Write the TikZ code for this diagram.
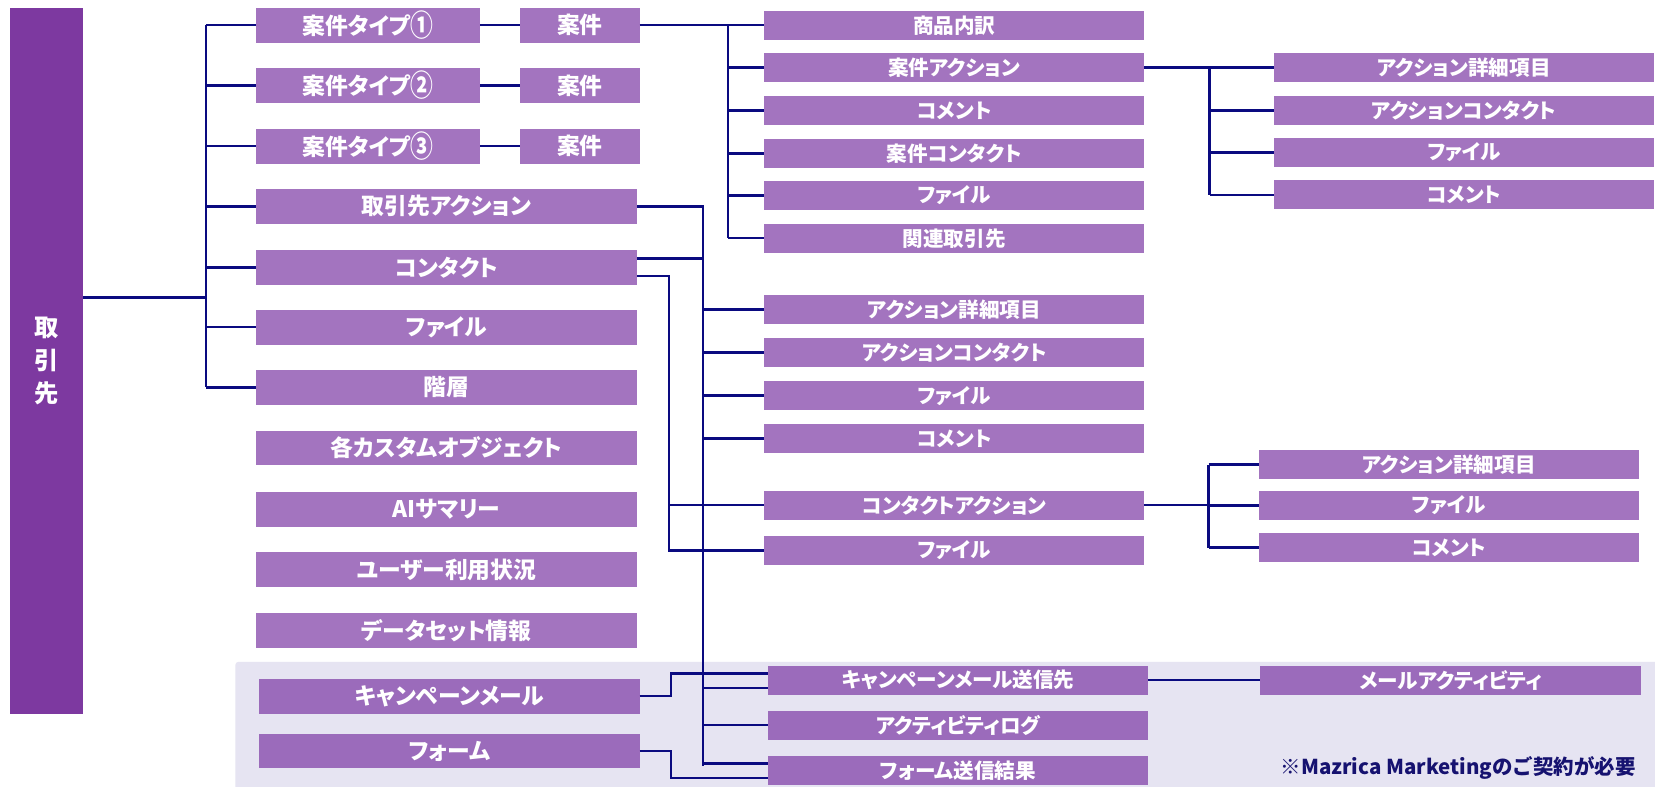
\documentclass[tikz,border=0pt]{standalone}
\usepackage{fontspec}
\usepackage{graphicx}
\newfontfamily\jp[RawFeature=+palt]{Noto Sans CJK JP}
\newfontfamily\jpn{Noto Sans CJK JP}
\usetikzlibrary{calc}
\definecolor{boxc}{RGB}{163,116,191}
\definecolor{pboxc}{RGB}{155,107,187}
\definecolor{mainc}{RGB}{125,57,160}
\definecolor{linec}{RGB}{10,10,128}
\definecolor{panelc}{RGB}{230,228,242}
\definecolor{notec}{RGB}{22,18,112}
\newcommand{\circnum}[1]{\raisebox{-1.2pt}{\scalebox{1.0}[1.32]{#1}}}
\begin{document}
\begin{tikzpicture}[x=0.5pt,y=-0.5pt,
  bx/.style={fill=boxc,text=white,inner sep=0pt,outer sep=0pt},
  f1/.style={font=\jp\bfseries\fontsize{10.8}{12}\selectfont},
  f2/.style={font=\jp\bfseries\fontsize{9.75}{11}\selectfont},
  c1/.style={bx,f1,minimum width=180.5pt,minimum height=16.5pt},
  c1n/.style={bx,f1,minimum width=106.3pt,minimum height=16.5pt},
  c1k/.style={bx,f1,minimum width=56.5pt,minimum height=16.5pt},
  p1/.style={c1,fill=pboxc,minimum width=180.25pt},
  c2/.style={bx,f2,minimum width=180pt,minimum height=13.75pt},
  p2/.style={c2,fill=pboxc,minimum width=180.35pt},
  mainbox/.style={fill=mainc,text=white,inner sep=0pt,outer sep=0pt,minimum width=34.65pt,minimum height=334pt,align=center,font=\jp\bfseries\fontsize{11.5}{15.5}\selectfont},
  conn/.style={draw=linec,line width=1.1pt},
  notestyle/.style={anchor=east,inner sep=0pt,text=notec,font=\jpn\bfseries\fontsize{9.7}{11}\selectfont}
]
\useasboundingbox (0,0) rectangle (1568,744.7);
\fill[white] (0,0) rectangle (1568,744.7);
\fill[panelc,rounded corners=1.5pt] (223,627) rectangle (1590,770);

% main
\node[mainbox] (tori) at (44,342) {取\\引\\先};

% column 1
\node[c1n] (t1) at (348.7,24) {案件タイプ\circnum{①}};
\node[c1n] (t2) at (348.7,81) {案件タイプ\circnum{②}};
\node[c1n] (t3) at (348.7,138.5) {案件タイプ\circnum{③}};
\node[c1k] (a1) at (549.5,24) {案件};
\node[c1k] (a2) at (549.5,81) {案件};
\node[c1k] (a3) at (549.5,138.5) {案件};
\node[c1] (ta) at (423,195.5) {取引先アクション};
\node[c1] (con) at (423,253.5) {コンタクト};
\node[c1] (fl) at (423,310) {ファイル};
\node[c1] (ks) at (423,367) {階層};
\node[c1] (cu) at (423,424.5) {各カスタムオブジェクト};
\node[c1] (ai) at (423,482.5) {AIサマリー};
\node[c1] (us) at (423,539.5) {ユーザー利用状況};
\node[c1] (ds) at (423,597.3) {データセット情報};
\node[p1] (cm) at (425.75,659.5) {キャンペーンメール};
\node[p1] (fm) at (425.75,711.5) {フォーム};

% column 2
\node[c2] (c2a) at (904,24) {商品内訳};
\node[c2] (c2b) at (904,64) {案件アクション};
\node[c2] (c2c) at (904,104.8) {コメント};
\node[c2] (c2d) at (904,145.4) {案件コンタクト};
\node[c2] (c2e) at (904,185.3) {ファイル};
\node[c2] (c2f) at (904,225.8) {関連取引先};
\node[c2] (c2g) at (904,293.3) {アクション詳細項目};
\node[c2] (c2h) at (904,334) {アクションコンタクト};
\node[c2] (c2i) at (904,374.8) {ファイル};
\node[c2] (c2j) at (904,415.5) {コメント};
\node[c2] (c2k) at (904,478.6) {コンタクトアクション};
\node[c2] (c2l) at (904,521.5) {ファイル};
\node[p2] (p2a) at (907.7,644.3) {キャンペーンメール送信先};
\node[p2] (p2b) at (907.7,687) {アクティビティログ};
\node[p2] (p2c) at (907.7,729.7) {フォーム送信結果};

% column 3
\node[c2] (c3a) at (1387,64) {アクション詳細項目};
\node[c2] (c3b) at (1387,104.8) {アクションコンタクト};
\node[c2] (c3c) at (1387,144.5) {ファイル};
\node[c2] (c3d) at (1387,184.5) {コメント};
\node[c2] (c3e) at (1372.7,440.2) {アクション詳細項目};
\node[c2] (c3f) at (1372.7,479) {ファイル};
\node[c2] (c3g) at (1372.7,518.8) {コメント};
\node[p2] (p3a) at (1374.5,644.3) {メールアクティビティ};

\node[notestyle] (note) at (1550,728) {※Mazrica Marketingのご契約が必要};

% connectors: 取引先
\coordinate (busA) at (195,282);
\draw[conn] (tori.east |- busA) -- (busA);
\draw[conn] (t1.west -| busA) -- (ks.west -| busA);
\foreach \n in {t1,t2,t3,ta,con,fl,ks} \draw[conn] (\n.west -| busA) -- (\n.west);
\foreach \i in {1,2,3} \draw[conn] (t\i.east) -- (a\i.west);

% 案件
\coordinate (busB) at (690,0);
\draw[conn] (a1.east) -- (c2a.west);
\draw[conn] (c2a.west -| busB) -- (c2f.west -| busB);
\foreach \n in {c2b,c2c,c2d,c2e,c2f} \draw[conn] (\n.west -| busB) -- (\n.west);

% 案件アクション
\coordinate (busC) at (1146,0);
\draw[conn] (c2b.east) -- (c3a.west);
\draw[conn] (c3a.west -| busC) -- (c3d.west -| busC);
\foreach \n in {c3b,c3c,c3d} \draw[conn] (\n.west -| busC) -- (\n.west);

% 取引先アクション
\coordinate (endD) at (666,725.4);
\draw[conn] (ta.east) -| (endD);
\foreach \n in {c2g,c2h,c2i,c2j,p2b} \draw[conn] (\n.west -| endD) -- (\n.west);
\coordinate (p2aL) at ($(p2a.west)+(0,7.4)$);
\coordinate (p2cU) at ($(p2c.west)+(0,-6.2)$);
\draw[conn] (p2aL -| endD) -- (p2aL);
\draw[conn] (p2cU -| endD) -- (p2cU);

% コンタクト
\coordinate (conU) at ($(con.east)+(0,-8.5)$);
\coordinate (conL) at ($(con.east)+(0,8)$);
\coordinate (busE) at (634,0);
\draw[conn] (conU) -- (conU -| endD);
\draw[conn] (conL) -| (busE |- c2l.west) -- (c2l.west);
\draw[conn] (busE |- c2k.west) -- (c2k.west);

% コンタクトアクション
\coordinate (busF) at (1145,0);
\draw[conn] (c2k.east) -- (c2k.east -| busF);
\draw[conn] (c3e.west -| busF) -- (c3g.west -| busF);
\foreach \n in {c3e,c3f,c3g} \draw[conn] (\n.west -| busF) -- (\n.west);

% panel
\draw[conn] (p2a.east) -- (p3a.west);
\coordinate (cmB) at (636,0);
\coordinate (p2aU) at ($(p2a.west)+(0,-6.3)$);
\coordinate (p2cL) at ($(p2c.west)+(0,7.7)$);
\draw[conn] (cm.east) -| (cmB |- p2aU) -- (p2aU);
\draw[conn] (fm.east) -| (cmB |- p2cL) -- (p2cL);
\end{tikzpicture}
\end{document}
